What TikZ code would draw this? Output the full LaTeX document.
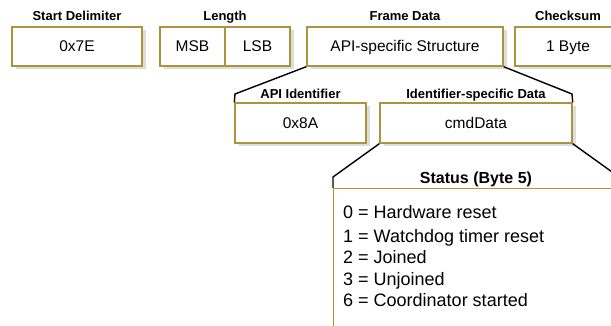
\documentclass[tikz,border=0pt]{standalone}
\usepackage{fontspec}
\setmainfont{Liberation Sans}
\usetikzlibrary{shadows}
\definecolor{boxgold}{RGB}{172,148,62}
\definecolor{shade}{RGB}{221,221,221}

\begin{document}
\begin{tikzpicture}[x=1pt,y=-1pt,
    field/.style={draw=boxgold, line width=1.4pt, fill=white, inner sep=0pt,
      minimum height=39pt, text height=11pt, text depth=0pt,
      font=\fontsize{15.5}{18}\selectfont,
      general shadow={fill=shade, shadow xshift=4pt, shadow yshift=-3pt}},
    title/.style={inner sep=0pt, text height=9.3pt, text depth=0pt,
      font=\fontsize{13}{15}\selectfont\bfseries},
    item/.style={inner sep=0pt, anchor=west, text height=12.9pt, text depth=0pt,
      font=\fontsize{18}{21}\selectfont},
    bracket/.style={line width=1.4pt}]
                        \useasboundingbox (0,0) rectangle (611,326);
                        \clip (0,0) rectangle (611,326);

                        % frame fields
                        \node[field, minimum width=130pt] (sd) at (77,46.5) {0x7E};
                        \node[field, minimum width=65pt] (msb) at (192.5,46.5) {MSB};
                        \node[field, minimum width=65pt] (lsb) at (257.5,46.5) {LSB};
                        \node[field, minimum width=196pt] (frame) at (405,46.5) {API-specific Structure};
                        \node[field, minimum width=106pt] (chk) at (568,46.5) {1 Byte};
                        \node[title] (sdT) at (77,15.5) {Start Delimiter};
                        \node[title] (lenT) at (225,15.5) {Length};
                        \node[title] (frameT) at (405,15.5) {Frame Data};
                        \node[title] (chkT) at (568,15.5) {Checksum};

                        % frame data
                        \node[field, minimum width=131pt, minimum height=40pt] (api) at (300.5,123) {0x8A};
                        \node[field, minimum width=192pt, minimum height=40pt] (cmd) at (476,123) {cmdData};
                        \node[title] (apiT) at (300.5,93.5) {API Identifier};
                        \node[title] (cmdT) at (476,93.5) {Identifier-specific Data};

                        % status byte
                        \node[draw=boxgold, line width=1.4pt, fill=white, anchor=north west,
                              minimum width=286pt, minimum height=160pt] (status) at (333,188) {};
                        \node[title, font=\fontsize{16}{18}\selectfont\bfseries, text height=11.5pt]
                              (statusT) at (476,177.5) {Status (Byte 5)};
                        \foreach \i/\yy/\txt in {0/212/Hardware reset, 1/236/Watchdog timer reset,
                                                 2/257.5/Joined, 3/279/Unjoined, 6/300/Coordinator started}
                            \node[item] (item\i) at (343,\yy) {\i\ = \txt};

                        \coordinate (apiC) at (235,94);
                        \coordinate (cmdC) at (572,94);
                        \coordinate (stL) at (333,177);
                        \coordinate (stR) at (619,177);
                        \foreach \from/\via/\to in {frame.south west/apiC/api.north west,
                                                    frame.south east/cmdC/cmd.north east,
                                                    cmd.south west/stL/status.north west,
                                                    cmd.south east/stR/status.north east}
                            \draw[bracket] (\from) -- (\via) -- (\to);
                    \end{tikzpicture}
\end{document}
